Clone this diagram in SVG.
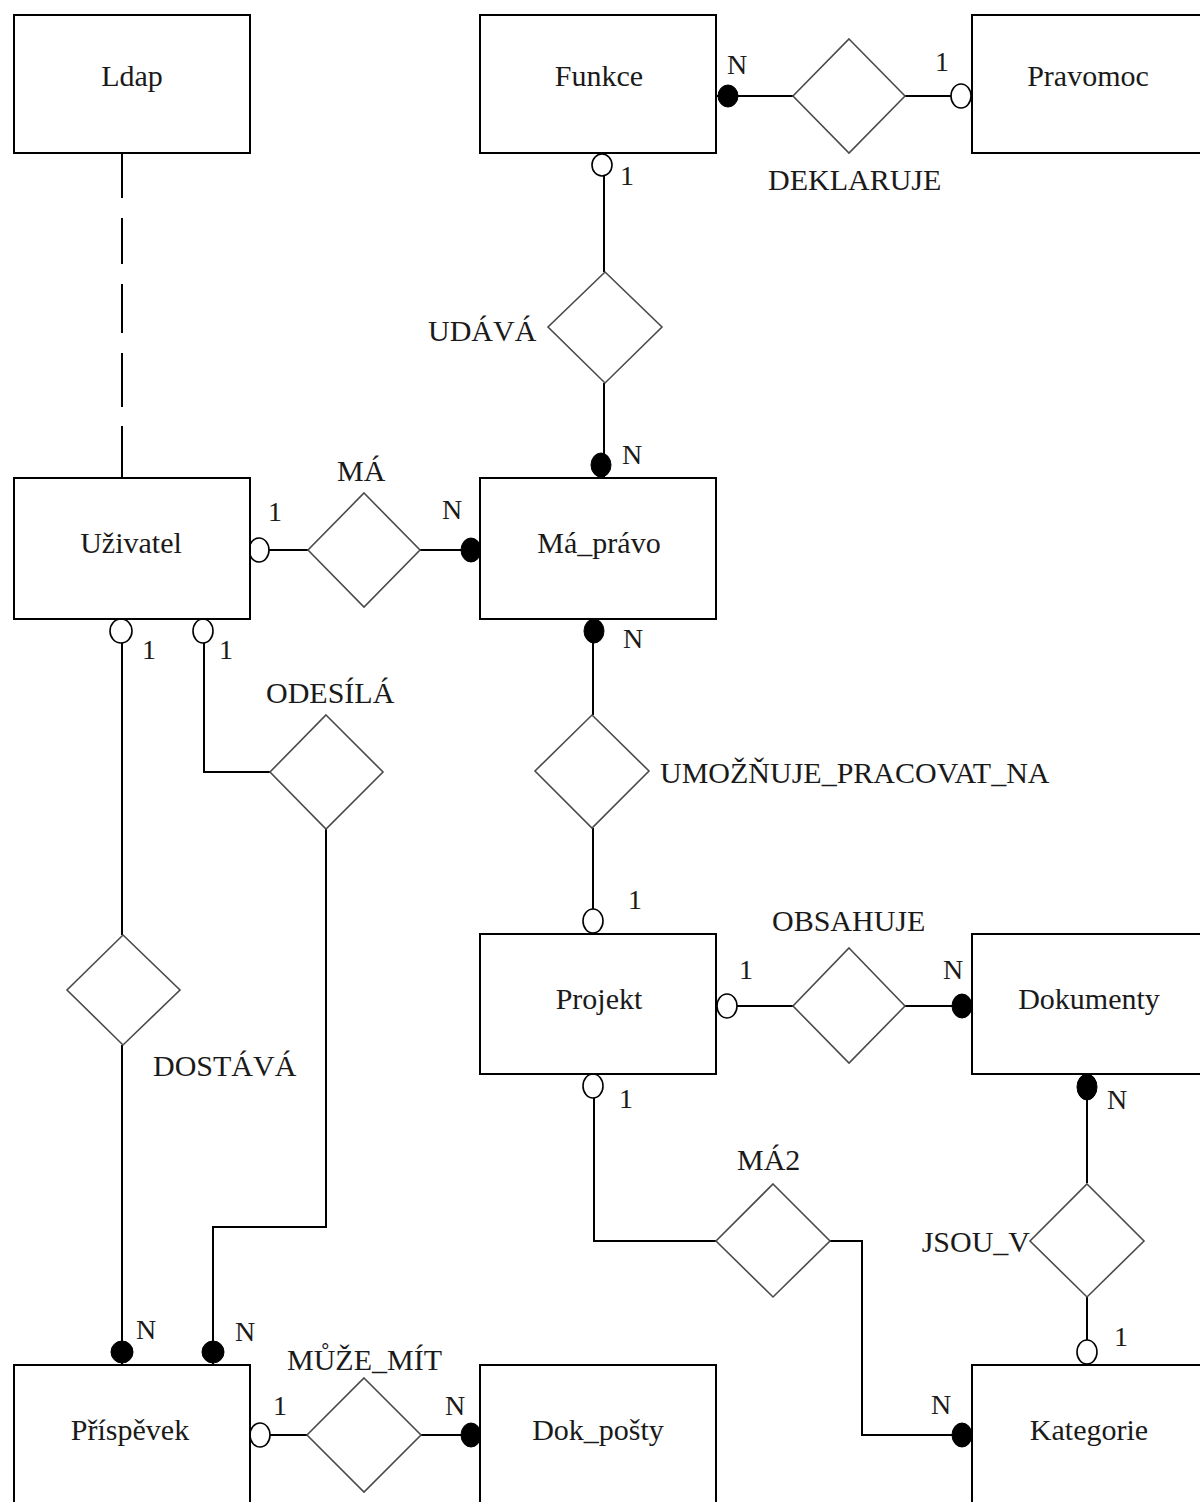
<svg xmlns="http://www.w3.org/2000/svg" width="1200" height="1502" viewBox="0 0 1200 1502">
  <style>
    .ent { fill: #fff; stroke: #000; stroke-width: 2; }
    .rel { fill: #fff; stroke: #4a4a4a; stroke-width: 1.6; }
    .ln { fill: none; stroke: #000; stroke-width: 2; }
    .one { fill: #fff; stroke: #000; stroke-width: 1.6; }
    .many { fill: #000; stroke: #000; stroke-width: 1; }
    text { font-family: "Liberation Serif", "Times New Roman", serif; fill: #1a1a1a; }
    .name { font-size: 30px; text-anchor: middle; }
    .lbl { font-size: 30px; }
    .card { font-size: 28px; }
  </style>
  <rect width="1200" height="1502" fill="#fff"/>

  <!-- connectors, drawn first so entities and relationships sit on top -->
  <g id="connectors">
    <!-- Ldap - Uživatel (dashed) -->
    <path class="ln" d="M122 153V198 M122 218V264 M122 284V333 M122 353V407 M122 426V478"/>
    <!-- DEKLARUJE -->
    <path class="ln" d="M716 96H793 M905 96H972"/>
    <!-- UDÁVÁ -->
    <path class="ln" d="M604 153V272 M604 383V478"/>
    <!-- MÁ -->
    <path class="ln" d="M250 550H308 M420 550H480"/>
    <!-- DOSTÁVÁ -->
    <path class="ln" d="M122 619V935 M122 1045V1365"/>
    <!-- ODESÍLÁ -->
    <path class="ln" d="M204 619V772H270 M326 829V1227H213V1365"/>
    <!-- UMOŽŇUJE_PRACOVAT_NA -->
    <path class="ln" d="M593 619V715 M593 828V934"/>
    <!-- OBSAHUJE -->
    <path class="ln" d="M716 1006H793 M905 1006H972"/>
    <!-- MÁ2 -->
    <path class="ln" d="M594 1074V1241H716 M830 1241H862V1435H972"/>
    <!-- JSOU_V -->
    <path class="ln" d="M1087 1074V1183 M1087 1297V1365"/>
    <!-- MŮŽE_MÍT -->
    <path class="ln" d="M250 1435H307 M421 1435H480"/>

    <!-- cardinality ends: open = 1, filled = N -->
    <ellipse class="many" cx="728" cy="96" rx="10" ry="11"/>
    <ellipse class="one" cx="961" cy="96" rx="10" ry="12"/>
    <ellipse class="one" cx="602" cy="165" rx="10" ry="11"/>
    <ellipse class="many" cx="601" cy="465" rx="10" ry="12"/>
    <ellipse class="one" cx="259" cy="550" rx="10" ry="12"/>
    <ellipse class="many" cx="471" cy="550" rx="10" ry="12"/>
    <ellipse class="one" cx="121" cy="631" rx="11" ry="12"/>
    <ellipse class="one" cx="203" cy="631" rx="10" ry="12"/>
    <ellipse class="many" cx="594" cy="631" rx="10" ry="12"/>
    <ellipse class="one" cx="593" cy="921" rx="10" ry="12"/>
    <ellipse class="one" cx="727" cy="1006" rx="10" ry="12"/>
    <ellipse class="many" cx="962" cy="1006" rx="10" ry="12"/>
    <ellipse class="one" cx="593" cy="1086" rx="10" ry="12"/>
    <ellipse class="many" cx="1087" cy="1087" rx="10" ry="13"/>
    <ellipse class="one" cx="1087" cy="1352" rx="10" ry="12"/>
    <ellipse class="many" cx="962" cy="1435" rx="10" ry="12"/>
    <ellipse class="many" cx="122" cy="1352" rx="11" ry="11"/>
    <ellipse class="many" cx="213" cy="1352" rx="11" ry="11"/>
    <ellipse class="one" cx="260" cy="1435" rx="10" ry="12"/>
    <ellipse class="many" cx="471" cy="1435" rx="10" ry="12"/>

    <!-- cardinality labels -->
    <text class="card" x="727" y="74">N</text>
    <text class="card" x="935" y="71">1</text>
    <text class="card" x="620" y="185">1</text>
    <text class="card" x="622" y="464">N</text>
    <text class="card" x="268" y="521">1</text>
    <text class="card" x="442" y="519">N</text>
    <text class="card" x="142" y="659">1</text>
    <text class="card" x="219" y="659">1</text>
    <text class="card" x="623" y="648">N</text>
    <text class="card" x="628" y="909">1</text>
    <text class="card" x="739" y="979">1</text>
    <text class="card" x="943" y="979">N</text>
    <text class="card" x="619" y="1108">1</text>
    <text class="card" x="1107" y="1109">N</text>
    <text class="card" x="1114" y="1346">1</text>
    <text class="card" x="931" y="1414">N</text>
    <text class="card" x="136" y="1339">N</text>
    <text class="card" x="235" y="1341">N</text>
    <text class="card" x="273" y="1415">1</text>
    <text class="card" x="445" y="1415">N</text>
  </g>

  <!-- entities -->
  <g id="ldap"><rect class="ent" x="14" y="15" width="236" height="138"/><text class="name" x="132" y="86">Ldap</text></g>
  <g id="funkce"><rect class="ent" x="480" y="15" width="236" height="138"/><text class="name" x="599" y="86">Funkce</text></g>
  <g id="pravomoc"><rect class="ent" x="972" y="15" width="240" height="138"/><text class="name" x="1088" y="86">Pravomoc</text></g>
  <g id="uzivatel"><rect class="ent" x="14" y="478" width="236" height="141"/><text class="name" x="131" y="553">Uživatel</text></g>
  <g id="ma_pravo"><rect class="ent" x="480" y="478" width="236" height="141"/><text class="name" x="599" y="553">Má_právo</text></g>
  <g id="projekt"><rect class="ent" x="480" y="934" width="236" height="140"/><text class="name" x="599" y="1009">Projekt</text></g>
  <g id="dokumenty"><rect class="ent" x="972" y="934" width="240" height="140"/><text class="name" x="1089" y="1009">Dokumenty</text></g>
  <g id="prispevek"><rect class="ent" x="14" y="1365" width="236" height="150"/><text class="name" x="130" y="1440">Příspěvek</text></g>
  <g id="dok_posty"><rect class="ent" x="480" y="1365" width="236" height="150"/><text class="name" x="598" y="1440">Dok_pošty</text></g>
  <g id="kategorie"><rect class="ent" x="972" y="1365" width="240" height="150"/><text class="name" x="1089" y="1440">Kategorie</text></g>

  <!-- relationships -->
  <g id="deklaruje"><polygon class="rel" points="849,39 905,96 849,153 793,96"/><text class="lbl" x="768" y="190">DEKLARUJE</text></g>
  <g id="udava"><polygon class="rel" points="605,272 662,327 605,383 548,327"/><text class="lbl" x="428" y="341">UDÁVÁ</text></g>
  <g id="ma"><polygon class="rel" points="364,493 420,550 364,607 308,550"/><text class="lbl" x="337" y="481">MÁ</text></g>
  <g id="odesila"><polygon class="rel" points="326,715 383,772 326,829 270,772"/><text class="lbl" x="266" y="703">ODESÍLÁ</text></g>
  <g id="umoznuje"><polygon class="rel" points="592,715 649,771 592,828 535,771"/><text class="lbl" x="660" y="783">UMOŽŇUJE_PRACOVAT_NA</text></g>
  <g id="obsahuje"><polygon class="rel" points="849,948 905,1006 849,1063 793,1006"/><text class="lbl" x="772" y="931">OBSAHUJE</text></g>
  <g id="dostava"><polygon class="rel" points="123,935 180,990 123,1045 67,990"/><text class="lbl" x="153" y="1076">DOSTÁVÁ</text></g>
  <g id="ma2"><polygon class="rel" points="773,1184 830,1241 773,1297 716,1241"/><text class="lbl" x="737" y="1170">MÁ2</text></g>
  <g id="jsou_v"><polygon class="rel" points="1087,1184 1144,1241 1087,1297 1030,1241"/><text class="lbl" x="1030" y="1252" text-anchor="end">JSOU_V</text></g>
  <g id="muze_mit"><polygon class="rel" points="364,1378 421,1435 364,1492 307,1435"/><text class="lbl" x="287" y="1370">MŮŽE_MÍT</text></g>
</svg>
